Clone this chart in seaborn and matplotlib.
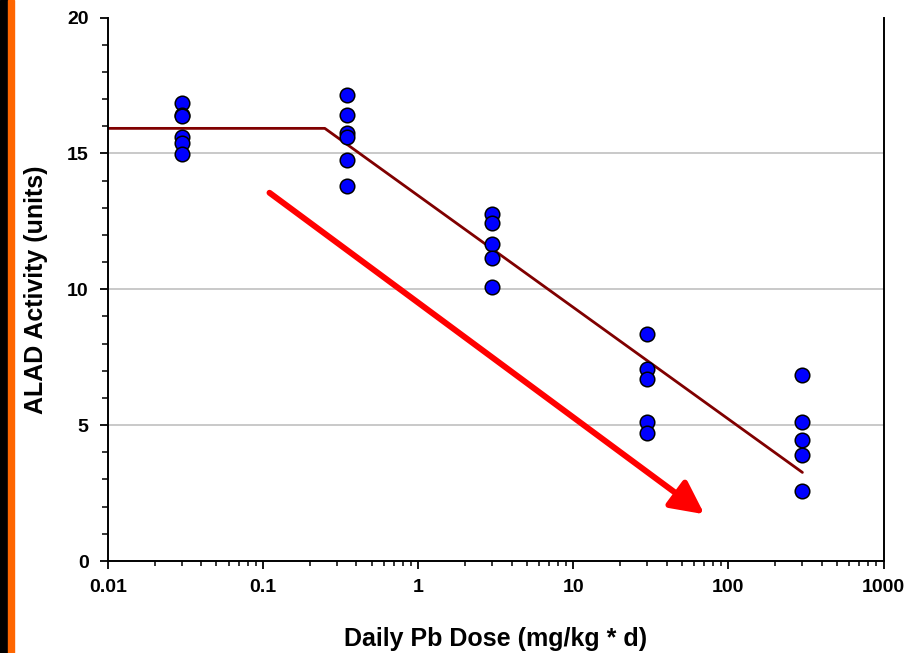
import numpy as np
import pandas as pd
import matplotlib
matplotlib.use("Agg")
import matplotlib.pyplot as plt
from matplotlib.ticker import LogLocator, MultipleLocator, NullFormatter
import seaborn as sns

# dose groups (mg/kg*d) and measured ALAD activity per animal
dose_levels = [0.03, 0.35, 3, 30, 300]
alad_003 = [16.84, 16.41, 16.36, 15.6, 15.38, 14.97]
alad_035 = [17.15, 16.41, 15.74, 15.61, 14.74, 13.80]
alad_3 = [12.77, 12.43, 11.66, 11.15, 10.09]
alad_30 = [8.34, 7.06, 6.69, 5.12, 4.72]
alad_300 = [6.84, 5.12, 4.45, 3.90, 2.58]

# hockey-stick model line
fit_dose = [0.01, 0.25, 300]
fit_alad = [15.92, 15.92, 3.26]

# trend arrow (data coords)
arrow_start = (0.11, 13.55)
arrow_end = (70, 1.72)

groups = [alad_003, alad_035, alad_3, alad_30, alad_300]
df = pd.DataFrame({
    "dose": np.concatenate([[d] * len(g) for d, g in zip(dose_levels, groups)]),
    "alad": np.concatenate(groups),
})
fit_df = pd.DataFrame({"dose": fit_dose, "alad": fit_alad})

sns.set_style("white")
plt.rcParams["font.family"] = ["Liberation Sans", "DejaVu Sans"]
plt.rcParams["font.weight"] = "bold"
for key in ["text.color", "axes.labelcolor", "xtick.color", "ytick.color"]:
    plt.rcParams[key] = "black"

fig = plt.figure(figsize=(9.1, 6.53), dpi=100)
# black/orange strip on the left edge
fig.patches.append(plt.Rectangle((0, 0), 7.5 / 910, 1, transform=fig.transFigure, color="black", zorder=0))
fig.patches.append(plt.Rectangle((7.5 / 910, 0), 6 / 910, 1, transform=fig.transFigure, color="#ff6600", zorder=0))

ax = fig.add_axes([108 / 910, 1 - 561 / 653, 775.5 / 910, (561 - 17.5) / 653])

for yv in [5, 10, 15]:
    ax.axhline(yv, color="#c0c0c0", lw=1.2, zorder=0)

sns.lineplot(data=fit_df, x="dose", y="alad", color="#800000", lw=2.0, ax=ax, zorder=2)
sns.scatterplot(data=df, x="dose", y="alad", color="#0000ff", edgecolor="black",
                linewidth=1.1, s=110, ax=ax, zorder=3)

ax.annotate("", xy=arrow_end, xytext=arrow_start,
            arrowprops=dict(arrowstyle="-|>,head_length=1.0,head_width=0.5",
                            mutation_scale=20, color="#ff0000", lw=4.3,
                            shrinkA=0, shrinkB=0),
            zorder=4)

ax.set_xscale("log")
ax.set_xlim(0.01, 1000)
ax.set_ylim(0, 20)
ax.set_xticks([0.01, 0.1, 1, 10, 100, 1000])
ax.set_xticklabels(["0.01", "0.1", "1", "10", "100", "1000"])
ax.xaxis.set_minor_locator(LogLocator(base=10, subs=np.arange(2, 10), numticks=20))
ax.xaxis.set_minor_formatter(NullFormatter())
ax.yaxis.set_major_locator(MultipleLocator(5))
ax.yaxis.set_minor_locator(MultipleLocator(1))

ax.tick_params(axis="x", which="major", direction="out", length=6, width=1.3, pad=7,
               labelsize=14, bottom=True)
ax.tick_params(axis="x", which="minor", direction="out", length=3.5, width=1.1, bottom=True)
ax.tick_params(axis="y", which="major", direction="out", length=6, width=1.3, pad=8,
               labelsize=14, left=True)
ax.tick_params(axis="y", which="minor", direction="out", length=4, width=1.1, left=True)
for lab in ax.get_xticklabels() + ax.get_yticklabels():
    lab.set_fontweight("bold")

for side in ["left", "bottom", "right"]:
    ax.spines[side].set_visible(True)
    ax.spines[side].set_color("black")
    ax.spines[side].set_linewidth(1.4)
ax.spines["top"].set_visible(False)

ax.set_xlabel("Daily Pb Dose (mg/kg * d)", fontsize=18, fontweight="bold")
ax.set_ylabel("ALAD Activity (units)", fontsize=18, fontweight="bold")
ax.xaxis.set_label_coords(0.5, (561 - 627) / 543.5)
ax.yaxis.set_label_coords((48 - 108) / 775.5, 0.5)

fig.savefig("out.png", dpi=100)
